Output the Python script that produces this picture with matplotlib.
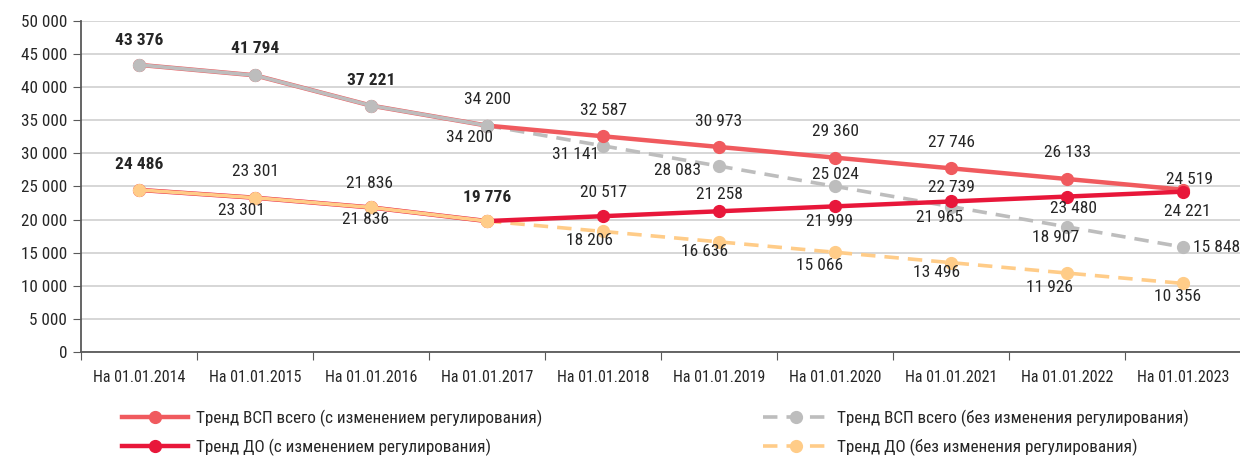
import matplotlib
matplotlib.use("Agg")
import matplotlib.pyplot as plt
from matplotlib.ticker import FuncFormatter, FixedLocator
from matplotlib.lines import Line2D

plt.rcParams['font.family'] = ['Roboto Condensed', 'Liberation Sans Narrow', 'Roboto', 'DejaVu Sans']

categories = ["На 01.01.2014", "На 01.01.2015", "На 01.01.2016", "На 01.01.2017",
              "На 01.01.2018", "На 01.01.2019", "На 01.01.2020", "На 01.01.2021",
              "На 01.01.2022", "На 01.01.2023"]

vsp_change = [43376, 41794, 37221, 34200, 32587, 30973, 29360, 27746, 26133, 24519]
do_change = [24486, 23301, 21836, 19776, 20517, 21258, 21999, 22739, 23480, 24221]
vsp_base = [43376, 41794, 37221, 34200, 31141, 28083, 25024, 21965, 18907, 15848]
do_base = [24486, 23301, 21836, 19776, 18206, 16636, 15066, 13496, 11926, 10356]

names = ["Тренд ВСП всего (с изменением регулирования)",
         "Тренд ДО (с изменением регулирования)",
         "Тренд ВСП всего (без изменения регулирования)",
         "Тренд ДО (без изменения регулирования)"]

# label placement in pixels (dx, dy down), None = no label
vsp_change_lbl = [(0, -24), (0, -27), (0, -25), (0, -26), (0, -26), (0, -25),
                  (0, -26), (0, -26), (0, -26), (7, -10)]
do_change_lbl = [(0, -25), (0, -26), (-1, -24), (0, -24), (0, -24), (0, -17),
                 (-5, 15), (0, -14), (6, 12), (4, 20)]
vsp_base_lbl = [None, None, None, (-18, 12), (-27, 9), (-41, 4), (0, -12),
                (-11, 11), (-11, 11), (10, 0)]
do_base_lbl = [None, (-13, 13), (-6, 12), None, (-13, 9), (-14, 10), (-15, 13),
               (-14, 10), (-18, 14), (-5, 13)]
bold_vsp = [True, True, True] + [False] * 7
bold_do = [True, False, False, True] + [False] * 6

c_vsp = "#F05A5E"
c_do = "#E8173A"
c_gray = "#BDBDBD"
c_orange = "#FFCC88"
txt = "#262626"

fig = plt.figure(figsize=(12.4, 4.57), dpi=100)
ax = fig.add_axes([81 / 1240, 1 - 352 / 457, 1160 / 1240, 331 / 457])

x = list(range(len(categories)))
lw = 2.6
ms = 8.5
dash = (0, (4, 2.5))

ax.plot(x, vsp_change, color=c_vsp, lw=lw + 0.6, marker="o", ms=ms, zorder=3)
ax.plot(x, do_change, color=c_do, lw=lw + 0.6, marker="o", ms=ms, zorder=3)
# historical part solid, forecast dashed
ax.plot(x[:4], vsp_base[:4], color=c_gray, lw=lw, marker="o", ms=ms, zorder=4)
ax.plot(x[3:], vsp_base[3:], color=c_gray, lw=lw, ls=dash, marker="o", ms=ms, zorder=2)
ax.plot(x[:4], do_base[:4], color=c_orange, lw=lw, marker="o", ms=ms, zorder=4)
ax.plot(x[3:], do_base[3:], color=c_orange, lw=lw, ls=dash, marker="o", ms=ms, zorder=2)
# 2017 points
ax.plot(x[3], vsp_base[3], color=c_gray, marker="o", ms=ms, zorder=5)
ax.plot(x[3], do_base[3], color=c_orange, marker="o", ms=ms, zorder=5)


def fmt(v):
    return f"{int(v):,}".replace(",", " ")


def put_labels(vals, offs, bolds=None):
    for i, (v, o) in enumerate(zip(vals, offs)):
        if o is None:
            continue
        ha = "left" if (o[0] >= 10 and o[1] == 0) else "center"
        w = "bold" if (bolds and bolds[i]) else "normal"
        ax.annotate(fmt(v), (x[i], v), xytext=(o[0], -o[1]), textcoords="offset pixels",
                    ha=ha, va="center", fontsize=12.5, color=txt, fontweight=w, zorder=6)


put_labels(vsp_change, vsp_change_lbl, bold_vsp)
put_labels(do_change, do_change_lbl, bold_do)
put_labels(vsp_base, vsp_base_lbl)
put_labels(do_base, do_base_lbl)

ax.set_xlim(-0.5, 9.5)
ax.set_ylim(0, 50000)
ax.set_yticks(range(0, 50001, 5000))
ax.yaxis.set_major_formatter(FuncFormatter(lambda v, p: fmt(v)))
ax.xaxis.set_major_locator(FixedLocator([i - 0.5 for i in range(11)]))
ax.xaxis.set_major_formatter(FuncFormatter(lambda v, p: ""))
ax.set_xticks(x, minor=True)
ax.set_xticklabels(categories, minor=True)
ax.tick_params(axis="x", which="major", length=6, color="#595959", direction="out")
ax.tick_params(axis="x", which="minor", length=0, pad=13, labelsize=11.5, labelcolor=txt)
ax.tick_params(axis="y", length=6, color="#595959", labelsize=12.3, labelcolor=txt, pad=4)
ax.grid(axis="y", color="#D0D0D0", lw=1.2)
ax.set_axisbelow(True)
for s in ["top", "right"]:
    ax.spines[s].set_visible(False)
for s in ["left", "bottom"]:
    ax.spines[s].set_color("#595959")
    ax.spines[s].set_linewidth(1.3)
    ax.spines[s].set_zorder(1)

h = [Line2D([], [], color=c_vsp, lw=lw + 0.6, marker="o", ms=ms),
     Line2D([], [], color=c_do, lw=lw + 0.6, marker="o", ms=ms),
     Line2D([], [], color=c_gray, lw=lw, ls=dash, marker="o", ms=ms),
     Line2D([], [], color=c_orange, lw=lw, ls=dash, marker="o", ms=ms)]

kw = dict(frameon=False, fontsize=12.3, handlelength=3.9, handletextpad=0.45,
          labelspacing=0.7, loc="upper left", borderpad=0, labelcolor=txt)
fig.legend(h[:2], names[:2], bbox_to_anchor=(113 / 1240, 1 - 401 / 457), **kw)
fig.legend(h[2:], names[2:], bbox_to_anchor=(754 / 1240, 1 - 401 / 457), **kw)

fig.savefig("out.png", dpi=100)
